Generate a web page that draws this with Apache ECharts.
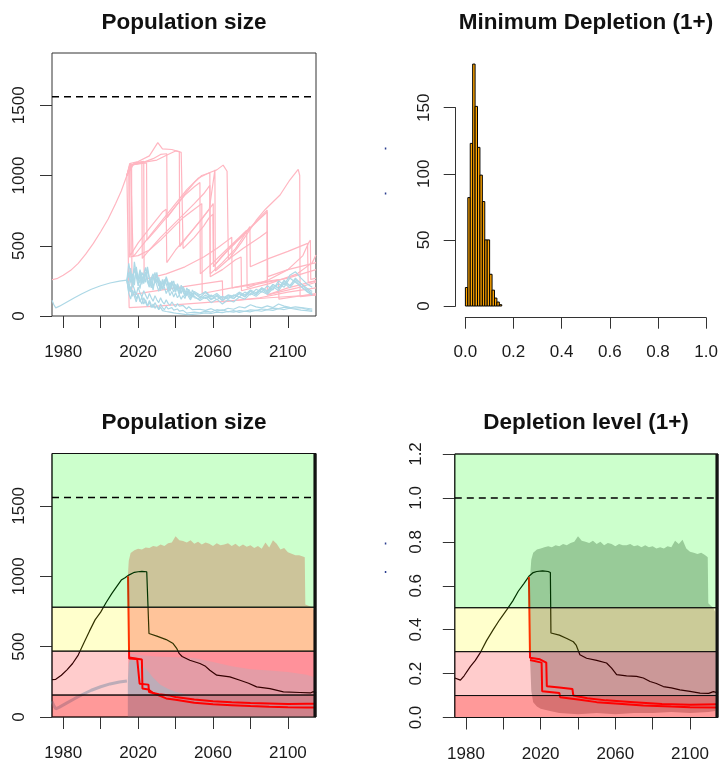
<!DOCTYPE html>
<html><head><meta charset="utf-8">
<script src="https://cdn.jsdelivr.net/npm/echarts@6/dist/echarts.min.js"></script>
<style>html,body{margin:0;padding:0;background:#fff}#c{width:721px;height:765px}</style>
</head><body><div id="c"></div>
<script>
// ---------------- DATA ----------------
const K = 1560;                       // reference (dashed) level
const popMax = 1872;                  // upper limit of population axes
const yearTicks = [1980,2000,2020,2040,2060,2080,2100];
const yearLabels = [1980,2020,2060,2100];
const popTicks = [0,500,1000,1500];

// Panel 1: historical trajectories
const pinkHistYears = [1974,1977,1980,1984,1988,1992,1996,2000,2004,2008,2011,2014];
const pinkHistVals  = [258,268,290,325,375,440,515,600,690,800,890,1000];
const blueHistYears = [1974,1975,1976,1978,1982,1986,1990,1995,2000,2005,2010,2014];
const blueHistVals  = [112,80,58,70,100,130,158,190,215,235,248,255];

// Panel 1: projected pink trajectories [year, value]
const pinkT1 = [[2014,1000],[2015.5,1085],[2020,1100],[2026,1140],[2030.5,1234],[2033,1190],[2038,1185],[2043,1165],[2043.8,1160],[2044,480],[2050,560],[2055,640],[2058,700],[2060,725],[2060.2,351],[2070,500],[2080,630],[2088.9,754],[2089.1,150],[2100,200],[2115,250]];
const pinkT2 = [[2014,1000],[2015.5,1070],[2022,1090],[2028,1120],[2032,1150],[2035.3,1155],[2035.5,700],[2040,780],[2045,870],[2050,950],[2054,1000],[2058.3,1020],[2058.5,300],[2065,380],[2072,480],[2079.7,636],[2079.9,351],[2090,410],[2100,460],[2110.5,517],[2110.8,240],[2115,250]];
const pinkT3 = [[2014,1000],[2016,1080],[2017,1085],[2017.3,420],[2022,500],[2028,600],[2034,700],[2040,800],[2046,900],[2052,980],[2058,1020],[2062,1040],[2065.4,1074],[2067.5,1030],[2068,1025],[2068.2,400],[2075,520],[2083,680],[2088,760],[2095.8,861],[2101,968],[2105.5,1043],[2106.3,1000],[2106.5,137],[2115,150]];
const pinkT4 = [[2014,1000],[2016,1075],[2021,1090],[2030,1110],[2036,1150],[2040,1175],[2042,1170],[2042.2,493],[2046,560],[2052,660],[2058,760],[2061,1040],[2061.2,320],[2068,400],[2076,480],[2085,560],[2089,600],[2089.2,280],[2100,330],[2115,380]];
const pinkT5 = [[2014,1000],[2017,1080],[2022,1095],[2022.2,410],[2026,470],[2032,560],[2038,640],[2044,720],[2050,800],[2055,870],[2058.3,930],[2058.5,280],[2065,330],[2072,400],[2075,420],[2075.2,180],[2090,230],[2105,300],[2113,380],[2115,434]];
const pinkT6 = [[2014,1000],[2016,1075],[2024.5,1090],[2024.7,540],[2030,620],[2035,700],[2040,780],[2045,860],[2050,920],[2053,950],[2053.2,300],[2060,380],[2067,470],[2074,560],[2078,610],[2078.2,200],[2090,260],[2100,330],[2108,430],[2111,520],[2112,540],[2112.2,260],[2115,270]];
const pinkT7 = [[2014,1000],[2015,1040],[2015.3,420],[2020,430],[2026,470],[2032,540],[2038,620],[2044,700],[2050,760],[2054,800],[2054.2,160],[2070,200],[2085,240],[2095,260],[2095.2,120],[2115,160]];
const pinkT8 = [[2014,1000],[2016.5,1060],[2016.7,150],[2025,170],[2040,200],[2055,230],[2065,250],[2065.2,100],[2085,130],[2100,170],[2115,200]];
const pinkT9 = [[2014,1000],[2015.5,1070],[2015.7,430],[2020,520],[2027,640],[2033,740],[2035,760],[2035.3,380],[2040,470],[2047,580],[2054,690],[2058,760],[2060.1,800],[2060.3,351],[2065,430],[2072,520],[2078,600],[2084,680],[2088.9,740],[2089,150],[2105,200],[2115,240]];
const pinkT10 = [[2014,1000],[2015,1000],[2015.2,60],[2030,70],[2050,90],[2070,110],[2090,130],[2115,150]];
const pinkT11 = [[2014,1000],[2018,1090],[2023,1100],[2023.2,260],[2035,300],[2045,350],[2055,420],[2062,480],[2068,540],[2070,560],[2070.2,200],[2085,230],[2100,270],[2115,330]];

// Panel 1: projected blue trajectories (yearly to 2050, then every 3 years)
const blueYears = [2014,2015,2016,2017,2018,2019,2020,2021,2022,2023,2024,2025,2026,2027,2028,2029,2030,2031,2032,2033,2034,2035,2036,2037,2038,2039,2040,2041,2042,2043,2044,2045,2046,2047,2048,2049,2050,
  2053,2056,2059,2062,2065,2068,2071,2074,2077,2080,2083,2086,2089,2092,2095,2098,2101,2104,2107,2110,2113];
const blueB1 = [255,310,240,265,330,280,215,290,250,300,345,260,230,275,205,250,290,225,180,240,210,265,230,175,215,250,190,205,160,220,185,150,200,170,140,185,160,
  130,170,120,150,110,145,125,160,135,175,150,190,160,210,180,235,200,250,210,175,150];
const blueB2 = [255,190,260,300,220,350,270,235,310,285,240,330,265,200,255,310,240,275,220,195,260,230,185,240,205,170,225,190,150,205,175,140,180,155,125,165,140,
  110,135,95,120,85,115,100,135,120,160,140,175,155,195,230,205,270,240,210,180,150];
const blueB3 = [255,160,120,185,140,100,150,115,85,130,95,70,110,80,60,95,70,50,85,60,45,70,50,38,60,42,30,50,35,25,40,30,20,32,25,18,28,
  22,35,28,45,38,55,48,66,58,80,65,58,72,60,85,70,62,55,60,48,40];
const blueB4 = [255,375,300,260,340,295,250,320,225,280,310,240,205,270,300,235,260,215,250,195,230,270,210,185,240,200,170,215,185,160,195,170,145,180,150,135,165,
  140,125,150,115,140,120,150,135,170,150,190,170,215,185,250,220,290,315,270,230,205];
const blueB5 = [255,215,170,230,190,150,205,165,135,180,150,120,160,130,105,145,115,95,130,100,85,115,90,75,100,80,65,88,70,58,75,62,50,66,55,45,58,
  48,40,52,35,44,30,38,26,34,30,40,34,45,40,52,46,55,48,42,38,32];
const blueB6 = [255,285,340,230,385,300,260,330,280,240,295,350,270,225,290,255,310,235,200,260,225,280,240,195,250,215,180,230,200,165,210,180,150,190,165,140,175,
  150,175,135,160,125,150,140,170,150,185,165,200,180,225,200,245,215,260,230,200,175];
const blueB7 = [255,170,210,140,180,120,155,100,135,85,115,70,100,60,85,55,72,45,62,38,52,32,45,28,38,22,32,18,26,15,22,12,18,10,15,12,20,
  16,22,18,28,24,32,28,38,34,44,40,50,46,56,52,62,58,66,60,55,50];
const blueB8 = [255,235,300,205,260,325,245,195,280,230,315,260,210,245,185,265,220,175,235,190,205,160,190,145,175,135,165,130,150,120,145,125,165,135,115,150,130,
  120,150,115,140,110,135,125,160,140,180,155,200,170,225,195,255,215,270,230,190,160];

// Panel 2: histogram of minimum depletion
const binEdges  = [0,0.01,0.02,0.03,0.04,0.05,0.06,0.07,0.08,0.09,0.10,0.11,0.12,0.13,0.14,0.15];
const binCounts = [14,82,123,183,151,120,99,79,50,50,24,12,6,3,1];

// Panel 3: envelope of simulated trajectories (population)
const pinkCloudYears = [2014.5,2015,2016,2018,2020,2022,2024,2026,2028,2030,2032,2034,2036,2038,2040,2042,2044,2046,2048,2050,2052,2054,2056,2058,2060,2062,2064,2066,2068,2070,2072,2074,2076,2078,2080,2082,2084,2086,2088,2090,2092,2094,2096,2098,2100,2102,2104,2106,2108,2109,2109.3,2111,2113,2114.6];
const pinkCloudUpper = [1000,1110,1165,1185,1195,1190,1205,1200,1215,1210,1225,1215,1235,1240,1285,1255,1250,1240,1255,1230,1245,1225,1240,1230,1215,1235,1220,1225,1235,1215,1230,1210,1225,1210,1220,1200,1215,1195,1240,1205,1255,1230,1190,1200,1170,1160,1150,1150,1140,1135,800,790,780,740];
const pinkCloudLowYears = [2014.5,2015,2114.6];
const pinkCloudLower = [995,0,0];
const blueDenseYears = [2014.5,2015,2016,2018,2020,2022,2025,2028,2032,2036,2040,2045,2050,2060,2070,2080,2090,2100,2110,2114.6];
const blueDenseUpper = [255,380,410,400,390,370,330,280,230,200,180,165,155,150,150,150,155,160,150,145];
const blueSparseYears = [2015,2016,2020,2030,2040,2050,2060,2070,2080,2090,2100,2110,2114.6];
const blueSparseUpper = [420,450,440,430,425,420,390,360,340,330,320,300,280];
const blueFloorYears = [2014.5,2114.6];
const blueFloor = [0,0];

const popBands = [0,156,468,780,1872];
const blackPopYears = [1974,1976,1979,1982,1985,1988,1991,1994,1997,2000,2003,2006,2009,2011,2013,2015,2018,2020,2022,2024.6,2025.5,2025.8,2030,2035,2038.7,2040.5,2042,2043.5,2047.6,2053,2056,2058.3,2062,2069,2074.4,2079,2083.3,2090.4,2097.6,2106.5,2112,2113.6,2115];
const blackPopVals  = [266,268,297,335,380,440,525,610,690,745,815,878,935,973,990,1008,1028,1032,1035,1032,1020,593,575,550,522,490,450,430,403,380,360,332,297,285,261,240,214,202,178,174,171,180,168];
const redPopA = [[2014.6,1000],[2015.2,415],[2019.5,412],[2020.5,400],[2020.8,237],[2025.5,230],[2025.8,178],[2031,162],[2037,152],[2040,142],[2050,125],[2060,112],[2070,105],[2080,100],[2090,96],[2100,92],[2110,94],[2115,95]];
const redPopB = [[2015.2,422],[2022,408],[2022.3,202],[2025.5,195],[2028,170],[2031,154],[2035,132],[2040,122],[2050,102],[2060,90],[2070,84],[2080,78],[2090,73],[2100,70],[2110,68],[2115,68]];

// Panel 4: depletion level
const depBands = [0,0.1,0.3,0.5,1.2];
const grayCloudYears = [2014.3,2015,2016,2018,2020,2022,2024,2026,2028,2030,2032,2034,2036,2038,2040,2042,2044,2046,2048,2050,2052,2054,2056,2058,2060,2062,2064,2066,2068,2070,2072,2074,2076,2078,2080,2082,2084,2086,2088,2090,2092,2094,2096,2098,2100,2102,2104,2106,2108,2109.5,2109.8,2111,2112.5,2113.5];
const grayCloudUpper = [0.64,0.72,0.75,0.765,0.77,0.775,0.78,0.775,0.785,0.78,0.79,0.785,0.795,0.80,0.825,0.805,0.80,0.795,0.805,0.79,0.80,0.785,0.795,0.79,0.78,0.79,0.785,0.785,0.79,0.78,0.785,0.775,0.785,0.775,0.78,0.77,0.775,0.77,0.78,0.775,0.805,0.79,0.81,0.77,0.755,0.75,0.745,0.75,0.74,0.73,0.52,0.51,0.5,0.48];
const grayLowYears = [2014.3,2015,2016,2018,2020,2025,2030,2040,2050,2060,2070,2080,2090,2100,2110,2113.5];
const grayCloudLower = [0.27,0.12,0.07,0.05,0.04,0.03,0.02,0.015,0.02,0.015,0.02,0.02,0.025,0.02,0.025,0.03];
const blackDepYears = [1974,1977,1979,1982.3,1985,1987.5,1991,1994.6,1998,2001.8,2005,2008,2011,2013.7,2016,2017.9,2021,2024,2025.2,2025.5,2030,2034,2037.5,2039,2041,2044.6,2050,2055.3,2058,2060.7,2066,2071.4,2075,2078.6,2082,2085.7,2090,2094.6,2100,2105.4,2110,2112.5,2115];
const blackDepVals  = [0.18,0.17,0.19,0.232,0.26,0.293,0.35,0.40,0.445,0.49,0.53,0.575,0.61,0.643,0.66,0.665,0.668,0.665,0.66,0.385,0.375,0.36,0.345,0.33,0.286,0.27,0.26,0.248,0.225,0.195,0.19,0.187,0.18,0.164,0.155,0.141,0.135,0.126,0.119,0.111,0.11,0.118,0.112];
const redDepA = [[2013.7,0.64],[2014.3,0.272],[2019.6,0.265],[2023,0.25],[2023.3,0.142],[2030,0.137],[2037,0.13],[2037.5,0.1],[2045,0.088],[2055,0.078],[2070,0.07],[2085,0.062],[2100,0.058],[2115,0.06]];
const redDepB = [[2014.3,0.262],[2020.5,0.25],[2020.8,0.12],[2030,0.112],[2030.5,0.092],[2040,0.082],[2050,0.07],[2060,0.064],[2075,0.055],[2090,0.05],[2100,0.047],[2115,0.045]];

// ---------------- CHART ----------------
const FONT = 'Liberation Sans, Arial, Helvetica, sans-serif';
const AX = '#333';
const TXT = '#1a1a1a';
const PINK = '#FFB6C1', LBLUE = '#ADD8E6';
const bandColors = ['rgba(255,0,0,0.4)','rgba(255,0,0,0.2)','rgba(255,255,0,0.2)','rgba(0,255,0,0.2)'];

function zip(xs, ys){ return xs.map((x,i)=>[x, ys[i]]); }
function lineS(g, pts, color, width, z, type){
  return {type:'line', xAxisIndex:g, yAxisIndex:g, data:pts, symbol:'none', showSymbol:false,
    silent:true, z:z, clip:true, lineStyle:{color:color, width:width, type:type||'solid'}};
}
function areaS(g, upX, upY, loX, loY, color, z){
  return {type:'custom', xAxisIndex:g, yAxisIndex:g, z:z, silent:true, data:[[upX[0], upY[0]]],
    renderItem:function(params, api){
      const pts = [];
      for (let i=0;i<upX.length;i++) pts.push(api.coord([upX[i], upY[i]]));
      for (let i=loX.length-1;i>=0;i--) pts.push(api.coord([loX[i], loY[i]]));
      return {type:'polygon', shape:{points:pts}, style:{fill:color}};
    }};
}
function bandsS(g, bounds, z){
  return {type:'custom', xAxisIndex:g, yAxisIndex:g, z:z, silent:true,
    data: bounds.slice(1).map((b,i)=>[1974 + i, b]),
    renderItem:function(params, api){
      const i = params.dataIndex;
      const p0 = api.coord([1974, bounds[i+1]]);
      const p1 = api.coord([2115, bounds[i]]);
      return {type:'rect', shape:{x:p0[0], y:p0[1], width:p1[0]-p0[0], height:p1[1]-p0[1]},
        style:{fill:bandColors[i], stroke:'#111', lineWidth:1}};
    }};
}
function yearAxis(g, margin){
  return {type:'value', gridIndex:g, min:1974, max:2115,
    axisLine:{show:false, onZero:false}, splitLine:{show:false},
    axisTick:{show:true, length:12, customValues:yearTicks, lineStyle:{color:AX, width:1}},
    axisLabel:{show:true, customValues:yearLabels, margin:margin, fontSize:17, color:TXT, fontFamily:FONT,
      formatter:v=>String(v)}};
}
function popAxis(g, margin){
  return {type:'value', gridIndex:g, min:0, max:popMax,
    axisLine:{show:false, onZero:false}, splitLine:{show:false},
    axisTick:{show:true, length:12, customValues:popTicks, lineStyle:{color:AX, width:1}},
    axisLabel:{show:true, customValues:popTicks, rotate:90, margin:margin, fontSize:17, color:TXT, fontFamily:FONT,
      formatter:v=>String(v)}};
}
function hiddenAxis(g, min, max){
  return {type:'value', gridIndex:g, min:min, max:max, show:false, axisLine:{onZero:false}, splitLine:{show:false}};
}

const series = [];
// Panel 1
[pinkT1,pinkT2,pinkT3,pinkT4,pinkT5,pinkT6,pinkT7,pinkT8,pinkT9,pinkT10,pinkT11].forEach(t=>series.push(lineS(0, t, PINK, 1.2, 2)));
series.push(lineS(0, zip(pinkHistYears, pinkHistVals), PINK, 1.2, 2));
[blueB1,blueB2,blueB3,blueB4,blueB5,blueB6,blueB7,blueB8].forEach(b=>series.push(lineS(0, zip(blueYears, b), LBLUE, 1.2, 3)));
series.push(lineS(0, zip(blueHistYears, blueHistVals), LBLUE, 1.2, 3));
series.push(lineS(0, [[1974,K],[2115,K]], '#000', 1.5, 4, [7,5]));

// Panel 2 histogram (bars drawn in grid 1 through its scales)
series.push({type:'custom', xAxisIndex:1, yAxisIndex:1, z:3, silent:true, clip:false,
  data: binCounts.map((c,i)=>[binEdges[i], c]),
  renderItem:function(params, api){
    const i = params.dataIndex;
    const p0 = api.coord([binEdges[i], binCounts[i]]);
    const p1 = api.coord([binEdges[i] + (binEdges[1]-binEdges[0]), 0]);
    return {type:'rect', shape:{x:p0[0], y:p0[1], width:p1[0]-p0[0], height:p1[1]-p0[1]},
      style:{fill:'#FFA500', stroke:'#000', lineWidth:1}};
  }});

// Panel 3
series.push(areaS(2, pinkCloudYears, pinkCloudUpper, pinkCloudLowYears, pinkCloudLower, '#FFB6C1', 1));
series.push(areaS(2, blueSparseYears, blueSparseUpper, blueDenseYears, blueDenseUpper, 'rgba(173,216,230,0.4)', 1));
series.push(areaS(2, blueDenseYears, blueDenseUpper, blueFloorYears, blueFloor, '#ADD8E6', 1));
series.push(lineS(2, zip(blueHistYears, blueHistVals), '#ADD8E6', 3, 2));
series.push(lineS(2, zip(blackPopYears, blackPopVals), '#000', 1.2, 3));
series.push(lineS(2, redPopA, '#FF0000', 2, 3));
series.push(lineS(2, redPopB, '#FF0000', 2, 3));
series.push(bandsS(2, popBands, 5));
series.push(lineS(2, [[1974,K],[2115,K]], '#000', 1.5, 6, [7,5]));
series.push(lineS(2, [[2114.3,0],[2114.3,popMax]], '#111', 2.5, 6));

// Panel 4
series.push(areaS(3, grayCloudYears, grayCloudUpper, grayLowYears, grayCloudLower, '#BEBEBE', 1));
series.push(lineS(3, zip(blackDepYears, blackDepVals), '#000', 1.2, 3));
series.push(lineS(3, redDepA, '#FF0000', 2, 3));
series.push(lineS(3, redDepB, '#FF0000', 2, 3));
series.push(bandsS(3, depBands, 5));
series.push(lineS(3, [[1974,1],[2115,1]], '#000', 1.5, 6, [7,5]));
series.push(lineS(3, [[2114.3,0],[2114.3,1.2]], '#111', 2.5, 6));

const titleStyle = {fontSize:22.5, fontWeight:'bold', color:'#111', fontFamily:FONT};
const option = {
  animation:false,
  backgroundColor:'#fff',
  title:[
    {text:'Population size', left:184, top:11, textAlign:'center', padding:0, textStyle:titleStyle},
    {text:'Minimum Depletion (1+)', left:586, top:11, textAlign:'center', padding:0, textStyle:titleStyle},
    {text:'Population size', left:184, top:411, textAlign:'center', padding:0, textStyle:titleStyle},
    {text:'Depletion level (1+)', left:586, top:411, textAlign:'center', padding:0, textStyle:titleStyle}
  ],
  grid:[
    {left:52, top:53, width:264, height:263, show:true, borderColor:AX, borderWidth:1, backgroundColor:'transparent'},
    {left:455.7, top:107.7, width:261.7, height:198.3, show:false},
    {left:52, top:453.5, width:264, height:263.5, show:true, borderColor:AX, borderWidth:1, backgroundColor:'transparent'},
    {left:454.8, top:454, width:263.2, height:263.5, show:true, borderColor:AX, borderWidth:1, backgroundColor:'transparent'},
    {left:465.3, top:316.7, width:242.4, height:1, show:false},
    {left:455.7, top:107.7, width:1, height:198.3, show:false}
  ],
  xAxis:[
    yearAxis(0, 28),
    hiddenAxis(1, -0.04, 1.04),
    yearAxis(2, 28),
    yearAxis(3, 28),
    {type:'value', gridIndex:4, min:0, max:1, interval:0.2, position:'bottom',
      axisLine:{show:true, onZero:false, lineStyle:{color:AX, width:1}}, splitLine:{show:false},
      axisTick:{show:true, length:11, lineStyle:{color:AX, width:1}},
      axisLabel:{margin:26, fontSize:17, color:TXT, fontFamily:FONT, formatter:v=>v.toFixed(1)}},
    hiddenAxis(5, 0, 1)
  ],
  yAxis:[
    popAxis(0, 24),
    hiddenAxis(1, 0, 150),
    popAxis(2, 24),
    {type:'value', gridIndex:3, min:0, max:1.2, interval:0.2,
      axisLine:{show:false, onZero:false}, splitLine:{show:false},
      axisTick:{show:true, length:12, lineStyle:{color:AX, width:1}},
      axisLabel:{rotate:90, margin:30, fontSize:17, color:TXT, fontFamily:FONT, formatter:v=>v.toFixed(1)}},
    hiddenAxis(4, 0, 1),
    {type:'value', gridIndex:5, min:0, max:150, interval:50, position:'left',
      axisLine:{show:true, onZero:false, lineStyle:{color:AX, width:1}}, splitLine:{show:false},
      axisTick:{show:true, length:12, lineStyle:{color:AX, width:1}},
      axisLabel:{rotate:90, margin:23, fontSize:17, color:TXT, fontFamily:FONT, formatter:v=>String(v)}}
  ],
  graphic:[
    {type:'rect', shape:{x:384.8, y:147.5, width:1.5, height:2}, style:{fill:'#2a3d8f'}},
    {type:'rect', shape:{x:384.8, y:192.5, width:1.5, height:2}, style:{fill:'#2a3d8f'}},
    {type:'rect', shape:{x:384.8, y:542.5, width:1.5, height:2}, style:{fill:'#2a3d8f'}},
    {type:'rect', shape:{x:384.8, y:571, width:1.5, height:2}, style:{fill:'#2a3d8f'}}
  ],
  series: series
};
const chart = echarts.init(document.getElementById('c'), null, {renderer:'canvas', width:721, height:765});
chart.setOption(option);
</script></body></html>
